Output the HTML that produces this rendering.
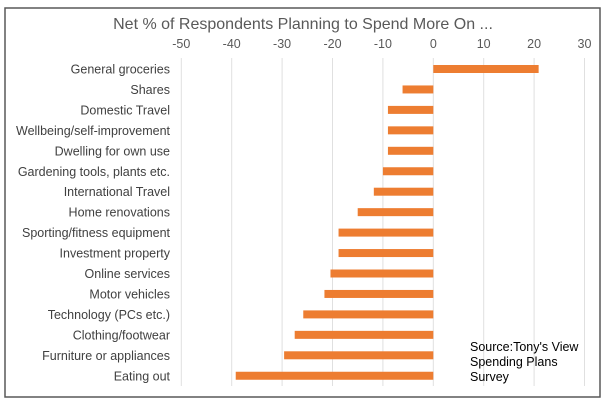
<!DOCTYPE html>
<html><head><meta charset="utf-8"><style>
body{margin:0;background:#fff;font-family:"Liberation Sans",sans-serif}
</style></head><body>
<svg width="606" height="408" xmlns="http://www.w3.org/2000/svg">
<rect x="5" y="8" width="595" height="389" fill="#fff" stroke="#595959" stroke-width="1.5"/>
<text x="303" y="29" text-anchor="middle" font-size="16" fill="#595959">Net % of Respondents Planning to Spend More On ...</text>
<g id="grid"></g><g id="bars"></g><g id="labels"></g>
<text font-size="12.5" fill="#000"><tspan x="470" y="351">Source:Tony's View</tspan><tspan x="470" y="366">Spending  Plans</tspan><tspan x="470" y="381">Survey</tspan></text>
</svg>
<script>
const categories=["General groceries","Shares","Domestic Travel","Wellbeing/self-improvement","Dwelling for own use","Gardening tools, plants etc.","International Travel","Home renovations","Sporting/fitness equipment","Investment property","Online services","Motor vehicles","Technology (PCs etc.)","Clothing/footwear","Furniture or appliances","Eating out"];
const values=[20.9,-6.1,-9,-9,-9,-10,-11.8,-15,-18.8,-18.8,-20.4,-21.6,-25.8,-27.5,-29.6,-39.2];
const ticks=[-50,-40,-30,-20,-10,0,10,20,30];
const NS="http://www.w3.org/2000/svg";
const x=v=>433.3+v*5.04;
const y=i=>69+i*20.45;
const grid=document.getElementById('grid'),bars=document.getElementById('bars'),labels=document.getElementById('labels');
ticks.forEach(t=>{
 const l=document.createElementNS(NS,'line');
 l.setAttribute('x1',x(t));l.setAttribute('x2',x(t));l.setAttribute('y1',58);l.setAttribute('y2',386);
 l.setAttribute('stroke','#e0e0e0');l.setAttribute('stroke-width','1');
 
 
 grid.appendChild(l);
 const tx=document.createElementNS(NS,'text');
 tx.setAttribute('x',x(t));tx.setAttribute('y',48);tx.setAttribute('text-anchor','middle');
 tx.setAttribute('font-size','12.5');tx.setAttribute('fill','#595959');
 tx.textContent=t;
 
 
 grid.appendChild(tx);
});
categories.forEach((c,i)=>{
 const v=values[i];
 const r=document.createElementNS(NS,'rect');
 r.setAttribute('x',Math.min(x(0),x(v)));r.setAttribute('width',Math.abs(x(v)-x(0)));
 r.setAttribute('y',y(i)-4);r.setAttribute('height',8);r.setAttribute('fill','#ED7D31');
 
 
 bars.appendChild(r);
 const t=document.createElementNS(NS,'text');
 t.setAttribute('x',170);t.setAttribute('y',y(i)+4.5);t.setAttribute('text-anchor','end');
 t.setAttribute('font-size','12.5');t.setAttribute('fill','#404040');
 t.textContent=c;
 
 
 labels.appendChild(t);
});
</script>
</body></html>
